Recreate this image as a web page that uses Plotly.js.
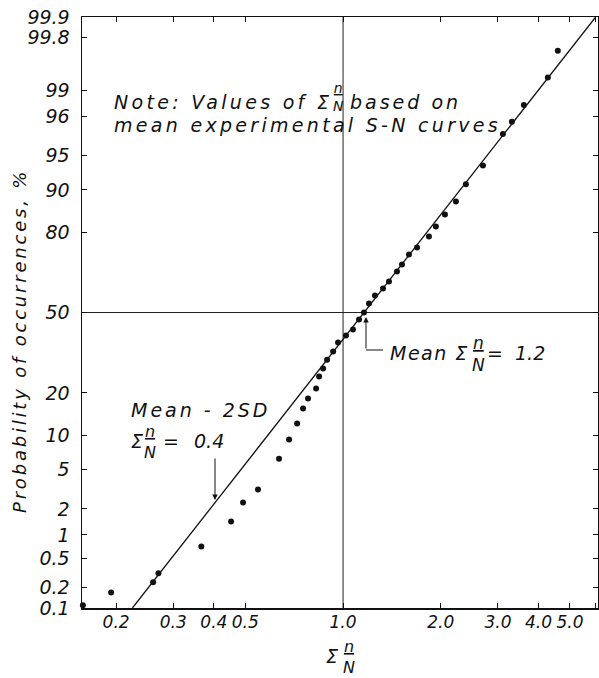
<!DOCTYPE html>
<html><head><meta charset="utf-8">
<script src="https://cdn.plot.ly/plotly-3.0.1.min.js"></script>
<style>html,body{margin:0;padding:0;background:#fff}#chart{width:599px;height:678px}</style>
</head><body><div id="chart"></div>
<script>
// ---- data ----
const sumNN = [0.158, 0.193, 0.260, 0.270, 0.366, 0.452, 0.492, 0.547, 0.635, 0.682, 0.722, 0.753,
  0.780, 0.826, 0.844, 0.868, 0.893, 0.932, 0.965, 1.021, 1.073, 1.120, 1.160, 1.202, 1.254, 1.328,
  1.385, 1.466, 1.519, 1.596, 1.690, 1.839, 1.932, 2.060, 2.227, 2.390, 2.697, 3.107, 3.311, 3.606,
  4.274, 4.587];
const probPct = [0.11, 0.17, 0.24, 0.32, 0.72, 1.44, 2.35, 3.2, 6.3, 9.2, 12.3, 15.8,
  18.4, 21.3, 25.2, 27.9, 31.1, 34.2, 37.7, 40.5, 42.9, 47.1, 50.0, 53.7, 57.1, 59.9,
  62.7, 66.6, 69.2, 72.8, 75.2, 78.7, 81.6, 84.7, 87.7, 91.0, 93.8, 96.9, 97.7, 98.5,
  99.3, 99.69];
const fitSumNN = [0.2245, 6.0];
const fitProbPct = [0.1, 99.9];
const refLineX = [1.0, 1.0];
const refLineXProb = [0.1, 99.9];
const refLineP = [50, 50];
const refLinePX = [0.157, 6.1];
const xTickVals = [0.2, 0.3, 0.4, 0.5, 1, 2, 3, 4, 5, 6];
const xTickText = ['0.2', '0.3', '0.4', '0.5', '1.0', '2.0', '3.0', '4.0', '5.0', ''];
const yTickPct = [0.1, 0.2, 0.5, 1, 2, 5, 10, 20, 50, 80, 90, 95, 98, 99, 99.8, 99.9];
const yTickText = ['0.1', '0.2', '0.5', '1', '2', '5', '10', '20', '50', '80', '90', '95', '96', '99', '99.8', '99.9'];
const xRange = [0.157, 6.1];
const pRange = [0.1, 99.9];

// inverse normal CDF (probability paper scale)
function probit(p) {
  const a = [-3.969683028665376e+01, 2.209460984245205e+02, -2.759285104469687e+02, 1.383577518672690e+02, -3.066479806614716e+01, 2.506628277459239e+00];
  const b = [-5.447609879822406e+01, 1.615858368580409e+02, -1.556989798598866e+02, 6.680131188771972e+01, -1.328068155288572e+01];
  const c = [-7.784894002430293e-03, -3.223964580411365e-01, -2.400758277161838e+00, -2.549732539343734e+00, 4.374664141464968e+00, 2.938163982698783e+00];
  const d = [7.784695709041462e-03, 3.224671290700398e-01, 2.445134137142996e+00, 3.754408661907416e+00];
  const pl = 0.02425, ph = 1 - pl; let q, r;
  if (p < pl) { q = Math.sqrt(-2 * Math.log(p)); return (((((c[0]*q+c[1])*q+c[2])*q+c[3])*q+c[4])*q+c[5]) / ((((d[0]*q+d[1])*q+d[2])*q+d[3])*q+1); }
  if (p <= ph) { q = p - 0.5; r = q*q; return (((((a[0]*r+a[1])*r+a[2])*r+a[3])*r+a[4])*r+a[5])*q / (((((b[0]*r+b[1])*r+b[2])*r+b[3])*r+b[4])*r+1); }
  q = Math.sqrt(-2 * Math.log(1 - p)); return -(((((c[0]*q+c[1])*q+c[2])*q+c[3])*q+c[4])*q+c[5]) / ((((d[0]*q+d[1])*q+d[2])*q+d[3])*q+1);
}
const Z = pct => probit(pct / 100);

// ---- layout helpers (pixel -> paper) ----
const PL = 82, PW = 516, PT = 17, PH = 591;
const px = v => (v - PL) / PW;
const py = v => (PT + PH - v) / PH;
const INK = '#111';
const FAM = 'DejaVu Sans, Verdana, sans-serif';
const sp = (t, ls) => `<span style="letter-spacing:${ls}px">${t}</span>`;
function T(text, x, y, xanchor, size, extra) {
  return Object.assign({ text, x: px(x), y: py(y), xref: 'paper', yref: 'paper', xanchor, yanchor: 'middle',
    showarrow: false, borderpad: 0, font: { family: FAM, size: size, color: INK, style: 'italic' } }, extra || {});
}
// stacked fraction n over N in one text
const frac = (cx, cy, size) => T('<u>n</u><br>N', cx, cy, 'center', size, { align: 'center' });
function arrow(x, y, ay) {
  return { text: '', x: px(x), y: py(y), xref: 'paper', yref: 'paper', showarrow: true, ax: 0, ay: ay,
    arrowhead: 2, arrowsize: 1.1, arrowwidth: 1, arrowcolor: INK };
}

const yc1 = 102, yc2 = 125;
const annotations = [
  T(sp('Note: Values of ', 3.3) + 'Σ', 113, yc1, 'left', 19),
  frac(338, yc1 - 5, 14),
  T(sp('based on', 3), 349, yc1, 'left', 19),
  T(sp('mean experimental S-N curves', 3.3), 113, yc2, 'left', 19),
  T(sp('Mean - 2SD', 3), 130, 410, 'left', 19),
  T('Σ', 130, 441, 'left', 19),
  frac(150, 442, 16),
  T('=', 171, 441, 'center', 19),
  T('0.4', 193, 441, 'left', 19),
  T(sp('Mean ', 1.5) + 'Σ', 389, 353, 'left', 19),
  frac(478, 354, 17),
  T('=', 495, 353, 'center', 19),
  T('1.2', 514, 353, 'left', 19),
  T('Σ', 332, 656, 'center', 19),
  frac(349, 657, 16),
  T(sp('Probability of occurrences, %', 2.8), 19, 341, 'center', 18, { textangle: -90 }),
  arrow(215, 500, -43),
  arrow(366, 317, 33)
];
const shapes = [
  { type: 'line', xref: 'paper', yref: 'paper', x0: px(366), x1: px(383), y0: py(350), y1: py(350),
    line: { color: INK, width: 1 } }
];

const traces = [
  { x: refLineX, y: refLineXProb.map(Z), mode: 'lines', line: { color: '#222', width: 1 }, hoverinfo: 'skip' },
  { x: refLinePX, y: refLineP.map(Z), mode: 'lines', line: { color: '#222', width: 1 }, hoverinfo: 'skip' },
  { x: fitSumNN, y: fitProbPct.map(Z), mode: 'lines', line: { color: INK, width: 1.3 } },
  { x: sumNN, y: probPct.map(Z), mode: 'markers', marker: { color: INK, size: 6 }, cliponaxis: false }
];

const layout = {
  width: 599, height: 678,
  margin: { l: PL, r: 599 - PL - PW, t: PT, b: 678 - PT - PH, pad: 0 },
  paper_bgcolor: '#fff', plot_bgcolor: '#fff', showlegend: false,
  font: { family: FAM, size: 19, color: INK, style: 'italic' },
  xaxis: {
    type: 'log', range: [Math.log10(xRange[0]), Math.log10(xRange[1])],
    tickmode: 'array', tickvals: xTickVals, ticktext: xTickText, tickangle: 0,
    ticks: 'inside', ticklen: 5, tickwidth: 1, tickcolor: INK,
    showline: true, linecolor: INK, linewidth: 1.5, mirror: 'ticks',
    showgrid: false, zeroline: false,
    tickfont: { family: FAM, size: 17, color: INK, style: 'italic' }, ticklabelstandoff: -2
  },
  yaxis: {
    range: [Z(pRange[0]), Z(pRange[1])],
    tickmode: 'array', tickvals: yTickPct.map(Z), ticktext: yTickText,
    ticks: 'inside', ticklen: 5, tickwidth: 1, tickcolor: INK,
    showline: true, linecolor: INK, linewidth: 1.5, mirror: 'ticks',
    showgrid: false, zeroline: false,
    tickfont: { family: FAM, size: 19, color: INK, style: 'italic' }, ticklabelstandoff: 7
  },
  annotations, shapes
};
Plotly.newPlot('chart', traces, layout, { staticPlot: true, displayModeBar: false });
</script>
</body></html>
